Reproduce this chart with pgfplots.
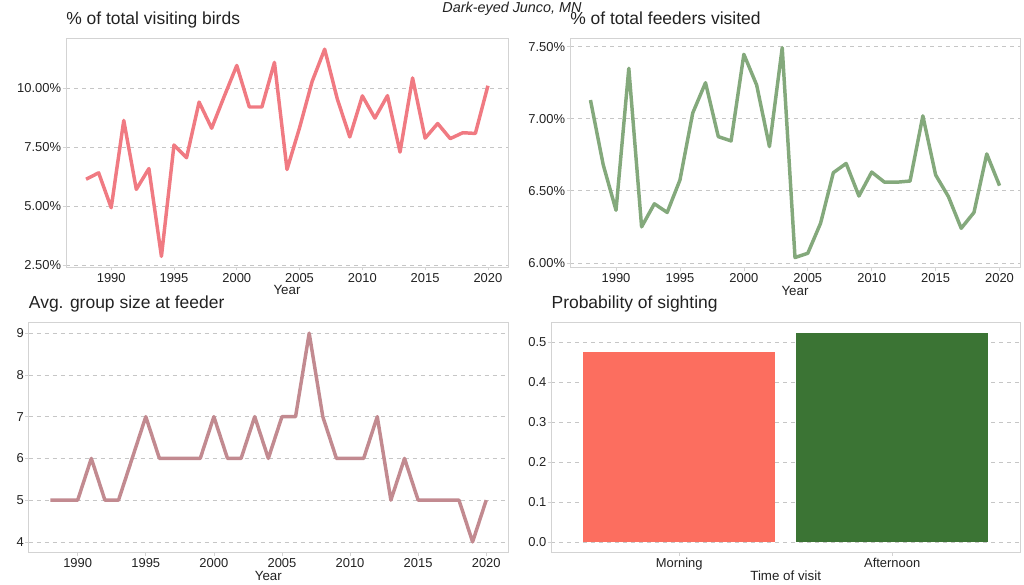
\documentclass[border=0pt]{standalone}
\usepackage{pgfplots}
\usepackage{pgfplotstable}
\pgfplotsset{compat=1.18}
\usepackage{fontspec}
\setmainfont{Liberation Sans}

\definecolor{birdline}{HTML}{F07A82}
\definecolor{feedline}{HTML}{84A97C}
\definecolor{groupline}{HTML}{C28A90}
\definecolor{morn}{HTML}{FC6E5F}
\definecolor{aftn}{HTML}{3B7434}
\definecolor{framec}{HTML}{D3D3D3}
\definecolor{gridc}{HTML}{C6C6C6}
\definecolor{txt}{HTML}{222222}

% year, % of visiting birds, % of feeders visited, avg group size
\pgfplotstableread{
year birds feeders group
1988 6.15 7.130 5
1989 6.42 6.680 5
1990 4.94 6.365 5
1991 8.64 7.350 6
1992 5.72 6.250 5
1993 6.60 6.410 5
1994 2.88 6.350 6
1995 7.60 6.575 7
1996 7.06 7.040 6
1997 9.42 7.250 6
1998 8.31 6.876 6
1999 9.66 6.846 6
2000 10.97 7.447 7
2001 9.21 7.234 6
2002 9.21 6.807 6
2003 11.10 7.493 7
2004 6.56 6.037 6
2005 8.33 6.067 7
2006 10.29 6.275 7
2007 11.66 6.626 9
2008 9.56 6.690 7
2009 7.94 6.464 6
2010 9.68 6.630 6
2011 8.74 6.560 6
2012 9.69 6.560 7
2013 7.30 6.568 5
2014 10.44 7.020 6
2015 7.89 6.610 5
2016 8.51 6.460 5
2017 7.87 6.240 5
2018 8.12 6.350 5
2019 8.09 6.756 4
2020 10.11 6.536 5
}\datatable

\pgfplotsset{
  panel/.style={
    scale only axis, anchor=south west,
    axis line style={framec, line width=0.6pt},
    ymajorgrids,
    grid style={gridc, dash pattern=on 3pt off 3pt, line width=0.5pt},
    tick style={framec, line width=0.5pt},
    major tick length=2.5pt, tick align=outside,
    xtick pos=left, ytick pos=left,
    tick label style={font=\fontsize{9.7}{11}\selectfont, text=txt},
    /pgf/number format/assume math mode=true,
    xticklabel style={anchor=base, yshift=-9pt},
    yticklabel style={anchor=east, inner sep=0pt, xshift=-1pt},
    title style={at={(0,1)}, anchor=base west, yshift=4.5pt, inner sep=0pt,
      font=\fontsize{13.1}{15}\selectfont, text=txt},
    xlabel style={at={(axis description cs:0.5,0)}, anchor=base, yshift=-21pt,
      inner sep=0pt, font=\fontsize{10}{12}\selectfont, text=txt},
  },
  yearaxis/.style={
    panel, xmin=1986.4, xmax=2021.6,
    xtick={1990,1995,...,2020},
    xticklabel style={/pgf/number format/1000 sep={}},
    xlabel={Year},
  },
}

\begin{document}
\begin{tikzpicture}
\path[use as bounding box] (0,0) rectangle (768pt,438.75pt);

\node[anchor=base, font=\fontsize{10.8}{12}\selectfont\itshape, text=txt]
  at (384pt,429.4pt) {Dark-eyed Junco, MN};

% top left
\begin{axis}[yearaxis, at={(49.5pt,238.5pt)}, width=331.5pt, height=171.5pt,
  ymin=2.43, ymax=12.12,
  ytick={2.5,5,7.5,10}, yticklabels={2.50\%,5.00\%,7.50\%,10.00\%},
  title={\% of total visiting birds}]
\addplot[birdline, line width=2.6pt, line join=round] table[x=year, y=birds] {\datatable};
\end{axis}

% top right
\begin{axis}[yearaxis, at={(427.5pt,238pt)}, width=337.5pt, height=172pt,
  ymin=5.967, ymax=7.558,
  ytick={6,6.5,7,7.5}, yticklabels={6.00\%,6.50\%,7.00\%,7.50\%},
  title={\% of total feeders visited}]
\addplot[feedline, line width=2.6pt, line join=round] table[x=year, y=feeders] {\datatable};
\end{axis}

% bottom left
\begin{axis}[yearaxis, at={(21.5pt,24.5pt)}, width=359.5pt, height=172.2pt,
  ymin=3.75, ymax=9.25, ytick={4,5,...,9},
  title={Avg. group size at feeder}]
\addplot[groupline, line width=2.6pt, line join=round] table[x=year, y=group] {\datatable};
\end{axis}

% bottom right
\begin{axis}[panel, at={(413.5pt,24.5pt)}, width=351.5pt, height=172.2pt,
  xmin=0.4, xmax=2.6, ymin=-0.025, ymax=0.549,
  xtick={1,2}, xticklabels={Morning,Afternoon},
  ytick={0,0.1,...,0.5},
  yticklabel style={/pgf/number format/.cd, fixed, fixed zerofill, precision=1},
  xlabel={Time of visit},
  title={Probability of sighting}]
\addplot[ybar, bar width=0.9, bar shift=0pt, fill=morn, draw=none] coordinates {(1,0.476)};
\addplot[ybar, bar width=0.9, bar shift=0pt, fill=aftn, draw=none] coordinates {(2,0.523)};
\end{axis}
\end{tikzpicture}
\end{document}
